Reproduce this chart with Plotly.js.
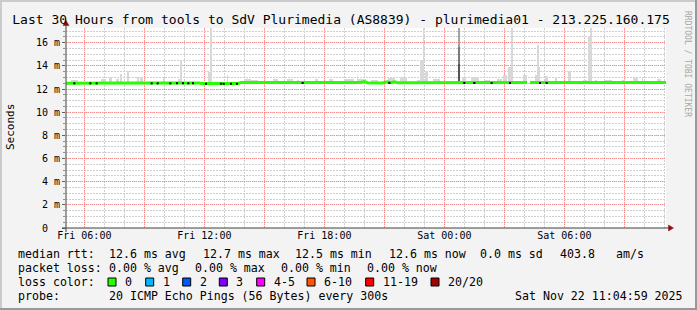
<!DOCTYPE html>
<html><head><meta charset="utf-8">
<script src="https://cdn.plot.ly/plotly-3.0.1.min.js"></script>
<style>html,body{margin:0;padding:0;background:#f3f3f3}#chart{width:697px;height:310px}</style>
</head><body><div id="chart"></div>
<script>
// ---------- data ----------
var chartTitle = 'Last 30 Hours from tools to SdV Plurimedia (AS8839) - plurimedia01 - 213.225.160.175';
var xRange = ['2025-11-21 05:05', '2025-11-22 11:05'];
var xTickVals = ['2025-11-21 06:00','2025-11-21 09:00','2025-11-21 12:00','2025-11-21 15:00','2025-11-21 18:00','2025-11-21 21:00','2025-11-22 00:00','2025-11-22 03:00','2025-11-22 06:00','2025-11-22 09:00'];
var xTickText = ['Fri 06:00','','Fri 12:00','','Fri 18:00','','Sat 00:00','','Sat 06:00',''];
var yTickVals = [0,2,4,6,8,10,12,14,16];
var yTickText = ['0\u00a0\u00a0','2 m','4 m','6 m','8 m','10 m','12 m','14 m','16 m'];

// median rtt (ms)
var medT = ['2025-11-21 05:05','2025-11-21 05:40','2025-11-21 06:30','2025-11-21 07:30','2025-11-21 09:00','2025-11-21 10:30','2025-11-21 11:45','2025-11-21 11:50','2025-11-21 13:40','2025-11-21 13:50','2025-11-21 16:00','2025-11-21 18:00','2025-11-21 19:50','2025-11-21 20:00','2025-11-21 20:09','2025-11-21 20:54','2025-11-21 21:09','2025-11-21 21:18','2025-11-21 21:30','2025-11-21 21:39','2025-11-21 22:30','2025-11-22 00:00','2025-11-22 00:40','2025-11-22 00:44','2025-11-22 00:48','2025-11-22 02:00','2025-11-22 04:08','2025-11-22 04:12','2025-11-22 04:17','2025-11-22 06:00','2025-11-22 08:00','2025-11-22 10:00','2025-11-22 11:05'];
var medV = [12.50,12.52,12.50,12.53,12.53,12.54,12.53,12.47,12.47,12.57,12.57,12.58,12.57,12.65,12.55,12.52,12.62,12.55,12.63,12.55,12.56,12.56,12.56,12.60,12.56,12.56,12.56,null,12.56,12.56,12.57,12.56,12.57];

// smoke (ping spread) columns: centre time, top (ms), span (minutes)
var smokeBase = 12.5;
var smokeT = ['2025-11-21 05:30','2025-11-21 06:58','2025-11-21 07:19','2025-11-21 07:40','2025-11-21 07:49','2025-11-21 08:10','2025-11-21 08:41','2025-11-21 08:52','2025-11-21 09:59','2025-11-21 10:44','2025-11-21 10:50','2025-11-21 12:15','2025-11-21 12:21','2025-11-21 13:10','2025-11-21 14:10','2025-11-21 14:30','2025-11-21 15:32','2025-11-21 16:17','2025-11-21 16:41','2025-11-21 17:37','2025-11-21 18:20','2025-11-21 19:15','2025-11-21 19:40','2025-11-21 19:52','2025-11-21 20:29','2025-11-21 21:20','2025-11-21 21:58','2025-11-21 22:46','2025-11-21 22:53','2025-11-21 22:58','2025-11-21 23:05','2025-11-21 23:35','2025-11-22 01:00','2025-11-22 01:33','2025-11-22 02:09','2025-11-22 02:44','2025-11-22 03:03','2025-11-22 03:14','2025-11-22 03:24','2025-11-22 04:03','2025-11-22 04:36','2025-11-22 04:41','2025-11-22 04:45','2025-11-22 05:05','2025-11-22 05:36','2025-11-22 06:14','2025-11-22 07:03','2025-11-22 07:14','2025-11-22 07:21','2025-11-22 07:36','2025-11-22 08:12','2025-11-22 08:56','2025-11-22 09:32','2025-11-22 09:55','2025-11-22 10:45'];
var smokeTop = [12.82,12.9,13.0,12.9,13.33,13.59,13.0,13.0,12.96,12.87,14.4,13.48,17.3,13.25,12.87,12.82,12.85,12.9,12.8,12.85,12.85,12.87,13.1,12.85,12.82,12.96,13.0,12.82,14.5,17.3,13.6,12.9,13.0,13.0,12.82,12.87,13.25,13.88,17.3,13.25,13.2,15.77,13.88,13.1,13.0,13.53,12.82,16.6,17.3,12.8,12.82,12.82,12.96,13.0,12.87];
var smokeSpan = [20,15,8,10,7,5,6,8,6,8,7,6,6,4,20,20,15,18,6,10,10,30,4,25,21,21,21,15,10,3,9,21,12,24,18,15,12,9,6,12,6,4,6,9,6,9,12,9,6,6,24,9,15,4,12];

// dense (dark) smoke column
var darkT = ['2025-11-22 00:44','2025-11-22 00:44','2025-11-22 00:44'];
var darkTop = [17.3, 15.6, 14.2];
var darkSpan = [8, 8, 8];

// dark median marks
var dotT = ['2025-11-21 05:30','2025-11-21 06:18','2025-11-21 06:37','2025-11-21 09:22','2025-11-21 09:40','2025-11-21 10:18','2025-11-21 10:38','2025-11-21 10:56','2025-11-21 11:12','2025-11-21 11:26','2025-11-21 12:05','2025-11-21 12:50','2025-11-21 12:58','2025-11-21 13:20','2025-11-21 13:38','2025-11-21 16:55','2025-11-21 21:15','2025-11-22 01:00','2025-11-22 01:30','2025-11-22 02:22','2025-11-22 03:17','2025-11-22 04:47','2025-11-22 05:07'];
var dotV = [12.49,12.49,12.49,12.49,12.49,12.49,12.49,12.49,12.49,12.49,12.45,12.45,12.45,12.45,12.45,12.52,12.53,12.52,12.52,12.52,12.52,12.52,12.52];

// legend texts
var rowMedian = ['median rtt:','12.6 ms avg','12.7 ms max','12.5 ms min','12.6 ms now','0.0 ms sd','403.8','am/s'];
var rowLoss = ['packet loss:','0.00 % avg','0.00 % max','0.00 % min','0.00 % now'];
var lossLabel = ['0','1','2','3','4-5','6-10','11-19','20/20'];
var lossColor = ['#26ff00','#00b8ff','#0059ff','#7e00ff','#ff00ff','#ff5500','#ff0000','#a10000'];
var rowProbe = ['probe:','20 ICMP Echo Pings (56 Bytes) every 300s','Sat Nov 22 11:04:59 2025'];

// ---------- layout helpers ----------
var L = 66, T = 28, PW = 600, PH = 200;
function px(x){ return (x - L) / PW; }
function py(y){ return (T + PH - y) / PH; }
var MONO = 'DejaVu Sans Mono, monospace';
var MIN = 60000;
var LF = 11.6;

var traces = [];
traces.push({type:'bar', x:smokeT, base:smokeT.map(function(){return smokeBase;}),
  y:smokeTop.map(function(v){return v - smokeBase;}), width:smokeSpan.map(function(m){return m*MIN;}),
  marker:{color:'#d8d8d8', line:{width:0}}, hoverinfo:'skip', showlegend:false});
traces.push({type:'bar', x:darkT, base:darkT.map(function(){return smokeBase;}),
  y:darkTop.map(function(v){return v - smokeBase;}), width:darkSpan.map(function(m){return m*MIN;}),
  marker:{color:['#a3a3a3','#7a7a7a','#555555'], line:{width:0}}, hoverinfo:'skip', showlegend:false});
traces.push({type:'scatter', mode:'lines', x:medT, y:medV, connectgaps:false,
  line:{color:'#26ff00', width:3}, hoverinfo:'skip', showlegend:false});
traces.push({type:'scatter', mode:'markers', x:dotT, y:dotV,
  marker:{color:'#000', size:2, symbol:'square', line:{width:0}}, hoverinfo:'skip', showlegend:false});

var ann = [];
var shapes = [];
function txt(s, x, y, size, color){
  ann.push({text:s, xref:'paper', yref:'paper', x:px(x), y:py(y), xanchor:'left', yanchor:'middle',
    showarrow:false, font:{family:MONO, size:size, color:color||'#000'}});
}
var medX = [16,107.3,200.5,293.3,386.7,478.3,558.3,614];
rowMedian.forEach(function(s,i){ txt(s, medX[i], 253.5, LF); });
var lossX = [16,107.3,193.3,279.3,365];
rowLoss.forEach(function(s,i){ txt(s, lossX[i], 267.5, LF); });
txt('loss color:', 16, 281.5, LF);
var boxX = [108,145.7,182.7,219.3,256.7,307,365.7,431];
lossLabel.forEach(function(s,i){
  shapes.push({type:'rect', xref:'paper', yref:'paper', x0:px(boxX[i]), x1:px(boxX[i]+8), y0:py(278), y1:py(286),
    fillcolor:lossColor[i], line:{color:'#000', width:1}, layer:'above'});
  txt(s, boxX[i]+15, 281.5, LF);
});
var probeX = [16,107.3,513.3];
rowProbe.forEach(function(s,i){ txt(s, probeX[i], 295.5, LF); });
// y-axis label
ann.push({text:'Seconds', xref:'paper', yref:'paper', x:px(10), y:py(127), xanchor:'center', yanchor:'middle',
  textangle:-90, showarrow:false, font:{family:MONO, size:11, color:'#000'}});
// rrdtool credit
ann.push({text:'RRDTOOL / TOBI OETIKER', xref:'paper', yref:'paper', x:px(688), y:py(64), xanchor:'center', yanchor:'middle',
  textangle:90, showarrow:false, font:{family:MONO, size:8, color:'#a8a8a8'}});

// frame and axes decoration
function rectPx(x0,y0,x1,y1,c){ shapes.push({type:'rect', xref:'paper', yref:'paper', x0:px(x0), x1:px(x1), y0:py(y1), y1:py(y0), fillcolor:c, line:{width:0}, layer:'above'}); }
rectPx(0,0,697,2,'#cbcbcb');
rectPx(0,0,2,310,'#cbcbcb');
rectPx(0,308,697,310,'#999999');
rectPx(695,0,697,310,'#999999');
function linePx(x0,y0,x1,y1,c){ shapes.push({type:'line', xref:'paper', yref:'paper', x0:px(x0), x1:px(x1), y0:py(y0), y1:py(y1), line:{color:c, width:1}, layer:'above'}); }
linePx(66,232,66,23,'#404040');
linePx(62,228,669,228,'#404040');
function pathPx(pts,c){
  var d = pts.map(function(p,i){ return (i?'L':'M') + px(p[0]) + ',' + py(p[1]); }).join(' ') + ' Z';
  shapes.push({type:'path', xref:'paper', yref:'paper', path:d, fillcolor:c, line:{color:c, width:0.5}, layer:'above'});
}
pathPx([[63,25.5],[69,25.5],[66,20.5]], '#8b1010');
pathPx([[668.5,225],[668.5,231],[673.5,228]], '#8b1010');

var layout = {
  width:697, height:310,
  margin:{l:L, r:697-L-PW, t:T, b:310-T-PH, pad:0},
  paper_bgcolor:'#f3f3f3', plot_bgcolor:'#ffffff',
  barmode:'overlay', bargap:0,
  title:{text:chartTitle, xref:'container', yref:'container', x:341/697, y:1-19/310, xanchor:'center', yanchor:'middle',
    font:{family:MONO, size:13, color:'#000'}},
  xaxis:{type:'date', range:xRange, tickmode:'array', tickvals:xTickVals, ticktext:xTickText,
    showgrid:true, gridcolor:'rgba(255,120,120,0.75)', gridwidth:1, griddash:'1px,1px', zeroline:false,
    showline:false, ticks:'', tickfont:{family:MONO, size:10, color:'#000'},
    minor:{tickmode:'linear', tick0:'2025-11-21 06:00', dtick:3600000, showgrid:true, gridcolor:'#cfcfcf', gridwidth:1, griddash:'2px,1px', ticks:''},
    fixedrange:true},
  yaxis:{range:[0,17.27], tickmode:'array', tickvals:yTickVals, ticktext:yTickText,
    showgrid:true, gridcolor:'rgba(255,120,120,0.75)', gridwidth:1, griddash:'1px,1px', zeroline:false,
    showline:false, ticks:'outside', ticklen:3, tickcolor:'#606060', tickfont:{family:MONO, size:10, color:'#000'},
    minor:{tickmode:'linear', tick0:0, dtick:0.5, showgrid:true, gridcolor:'#cfcfcf', gridwidth:1, griddash:'2px,1px', ticks:'outside', ticklen:2, tickcolor:'#909090'},
    fixedrange:true},
  annotations:ann, shapes:shapes, showlegend:false
};
Plotly.newPlot('chart', traces, layout, {staticPlot:true, displayModeBar:false});
</script></body></html>
